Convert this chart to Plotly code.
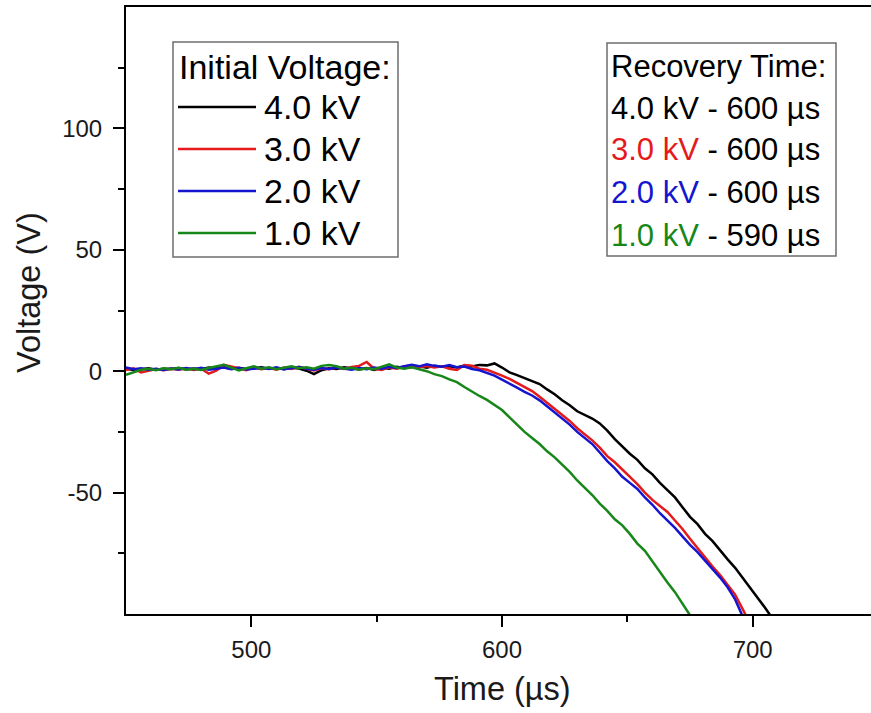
import plotly.graph_objects as go

# ---------------- data ----------------
time_us = [450 + 3 * k for k in range(87)]  # sampling grid 450 ... 708 µs

v_4kV = [1.0, 0.5, 0.8, 1.2, 0.6, 1.0, 0.9, 1.3, 0.7, 1.1,
         0.8, 1.5, 1.2, 1.6, 1.0, 1.4, 0.9, 1.2, 1.6, 1.0,
         1.3, 0.8, 1.4, 1.1, 0.2, -1.2, 0.4, 1.2, 0.9, 1.6,
         1.0, 0.7, 1.3, 0.5, 1.4, 1.0, 1.8, 1.3, 1.7, 2.0,
         1.4, 2.2, 1.8, 2.0, 1.5, 2.3, 1.9, 2.6, 2.4, 3.2,
         1.5, -0.5, -1.6, -2.8, -4.2, -5.3, -7.5, -9.5, -12.0, -14.0,
         -16.5, -18.0, -19.5, -21.5, -24.5, -28.0, -31.0, -34.0, -36.5, -40.0,
         -42.5, -46.0, -49.0, -52.0, -56.0, -60.0, -63.0, -67.0, -70.0, -74.0,
         -77.5, -81.0, -85.0, -89.0, -93.0, -97.5, -102.0]

v_3kV = [0.5, 1.2, -0.5, 0.3, 0.9, 0.4, 1.0, 0.6, 1.2, 0.5,
         1.0, -1.0, 0.2, 2.6, 2.0, 1.2, 0.4, 1.6, 0.8, 1.4,
         0.6, 1.5, 0.9, 1.8, 1.0, 0.3, 1.2, 0.8, 1.5, 0.9,
         1.7, 2.2, 3.8, 1.0, 0.5, 1.6, 1.0, 1.9, 2.4, 1.6,
         2.1, 1.5, 2.0, 1.0, 0.5, 2.5, 2.3, 1.0, 0.6, -0.5,
         -1.8, -3.2, -4.8, -6.5, -8.2, -10.5, -13.0, -15.5, -18.0, -20.5,
         -23.5, -26.0, -28.5, -31.5, -35.0, -37.5, -40.5, -43.5, -46.5, -50.0,
         -53.0, -55.5, -58.0, -61.5, -65.0, -69.0, -73.0, -77.0, -80.5, -84.0,
         -88.0, -92.0, -98.0, -104.0]

v_2kV = [1.5, 0.8, 1.2, 0.6, 1.0, 0.5, 1.1, 0.7, 1.3, 0.8,
         1.4, 0.6, 1.0, 1.5, 0.8, 1.3, 0.7, 1.1, 1.4, 0.9,
         1.6, 0.8, 1.2, 1.7, 1.0, 0.6, 1.3, 0.9, 1.5, 1.0,
         0.6, 1.3, 0.8, 1.5, 1.0, 1.8, 1.3, 2.0, 2.6, 2.0,
         2.8, 2.2, 1.8, 2.5, 1.6, 1.9, 0.9, 0.4, -0.6, -1.8,
         -3.5, -5.0, -6.8, -8.5, -10.0, -12.0, -14.5, -17.0, -19.5, -22.0,
         -25.0, -27.5, -30.0, -33.5, -37.0, -40.0, -43.5, -46.0, -48.5, -52.0,
         -55.0, -58.5, -61.5, -64.5, -68.0, -71.5, -74.5, -78.0, -81.5, -85.0,
         -89.0, -94.0, -101.0]

v_1kV = [-1.5, -0.5, 0.6, 1.0, 0.4, 1.2, 0.8, 1.4, 0.6, 1.0,
         0.5, 1.3, 1.8, 2.6, 1.5, 0.3, 1.2, 2.0, 1.0, 1.6,
         0.8, 1.4, 2.0, 1.2, 1.6, 1.0, 2.2, 2.5, 2.0, 1.0,
         1.4, 0.6, 1.2, 0.8, 1.8, 2.8, 1.5, 1.0, 1.6, 0.8,
         0.0, -1.2, -2.0, -3.4, -4.5, -6.5, -8.5, -10.2, -11.8, -14.0,
         -16.0, -19.0, -22.0, -25.0, -27.5, -30.0, -33.0, -35.5, -38.5, -41.5,
         -45.0, -48.0, -51.0, -54.5, -57.5, -61.0, -63.5, -67.0, -71.0, -74.0,
         -78.5, -83.0, -87.0, -91.0, -95.5, -100.5]

series_values = [v_4kV, v_3kV, v_2kV, v_1kV]
initial_voltages = ["4.0 kV", "3.0 kV", "2.0 kV", "1.0 kV"]
recovery_times = ["600 µs", "600 µs", "600 µs", "590 µs"]

x_tick_vals = [500, 600, 700]
x_tick_labels = ["500", "600", "700"]
x_minor_vals = [550, 650]
y_tick_vals = [-50, 0, 50, 100]
y_tick_labels = ["-50", "0", "50", "100"]
y_minor_vals = [-75, -25, 25, 75, 125]

# ---------------- styling ----------------
colors = ["#000000", "#e41a1c", "#1515d0", "#17871a"]
FONT = "Liberation Sans, Arial, sans-serif"
W, H = 871, 713
L, R, T, B = 126, 0, 7, 99
PW, PH = W - L - R, H - T - B


def xp(px):
    return (px - L) / PW


def yp(py):
    return (H - B - py) / PH


fig = go.Figure()
for vals, col, name in zip(series_values, colors, initial_voltages):
    fig.add_trace(go.Scatter(
        x=time_us[:len(vals)], y=vals, mode="lines", name=name,
        line=dict(color=col, width=2.5), showlegend=False,
    ))

axis_common = dict(
    showline=True, linecolor="black", linewidth=2,
    ticks="outside", ticklen=11, tickwidth=2, tickcolor="black",
    showgrid=False, zeroline=False,
    tickfont=dict(family=FONT, size=24, color="#1a1a1a"),
)

fig.update_xaxes(
    range=[450, 747.2], tickmode="array", tickvals=x_tick_vals, ticktext=x_tick_labels,
    mirror=True, ticklabelstandoff=2,
    minor=dict(tickmode="array", tickvals=x_minor_vals, ticks="outside",
               ticklen=6, tickwidth=2, tickcolor="black", showgrid=False),
    **axis_common,
)
fig.update_yaxes(
    range=[-100, 150], tickmode="array", tickvals=y_tick_vals, ticktext=y_tick_labels,
    ticklabelstandoff=6, mirror=False,
    minor=dict(tickmode="array", tickvals=y_minor_vals, ticks="outside",
               ticklen=6, tickwidth=2, tickcolor="black", showgrid=False),
    **axis_common,
)

annotations = []
shapes = []

# axis titles
annotations.append(dict(text="Time (µs)", xref="paper", yref="paper",
                        x=xp(502), y=yp(689), xanchor="center", yanchor="middle",
                        showarrow=False, font=dict(family=FONT, size=32.5, color="#1a1a1a")))
annotations.append(dict(text="Voltage (V)", xref="paper", yref="paper",
                        x=xp(29), y=yp(293), xanchor="center", yanchor="middle",
                        textangle=-90, showarrow=False,
                        font=dict(family=FONT, size=32.5, color="#1a1a1a")))

# left legend box: Initial Voltage
shapes.append(dict(type="rect", xref="paper", yref="paper",
                   x0=xp(173), x1=xp(398), y0=yp(42), y1=yp(257),
                   line=dict(color="#6e6e6e", width=1.5), fillcolor="rgba(0,0,0,0)"))
annotations.append(dict(text="Initial Voltage:", xref="paper", yref="paper",
                        x=xp(177), y=yp(67), xanchor="left", yanchor="middle",
                        showarrow=False, font=dict(family=FONT, size=34, color="black")))
row_y = [107, 149, 191, 233]
for ry, col, lab in zip(row_y, colors, initial_voltages):
    shapes.append(dict(type="line", xref="paper", yref="paper",
                       x0=xp(178), x1=xp(256), y0=yp(ry), y1=yp(ry),
                       line=dict(color=col, width=2.5)))
    annotations.append(dict(text=lab, xref="paper", yref="paper",
                            x=xp(262), y=yp(ry), xanchor="left", yanchor="middle",
                            showarrow=False, font=dict(family=FONT, size=34, color="black")))

# right legend box: Recovery Time
shapes.append(dict(type="rect", xref="paper", yref="paper",
                   x0=xp(607), x1=xp(836), y0=yp(43), y1=yp(256),
                   line=dict(color="#6e6e6e", width=1.5), fillcolor="rgba(0,0,0,0)"))
annotations.append(dict(text="Recovery Time:", xref="paper", yref="paper",
                        x=xp(609), y=yp(66), xanchor="left", yanchor="middle",
                        showarrow=False, font=dict(family=FONT, size=31, color="black")))
row_y2 = [108, 150, 192, 235]
for ry, col, lab, rt in zip(row_y2, colors, initial_voltages, recovery_times):
    annotations.append(dict(text=f'<span style="color:{col}">{lab}</span> - {rt}',
                            xref="paper", yref="paper",
                            x=xp(609), y=yp(ry), xanchor="left", yanchor="middle",
                            showarrow=False, font=dict(family=FONT, size=31, color="black")))

fig.update_layout(
    width=W, height=H,
    margin=dict(l=L, r=R, t=T, b=B, pad=0),
    plot_bgcolor="white", paper_bgcolor="white",
    showlegend=False,
    annotations=annotations, shapes=shapes,
)

fig.write_html(
    "out.html",
    config={"displayModeBar": False},
    post_script="document.body.style.margin='0';document.body.style.overflow='hidden';",
)
